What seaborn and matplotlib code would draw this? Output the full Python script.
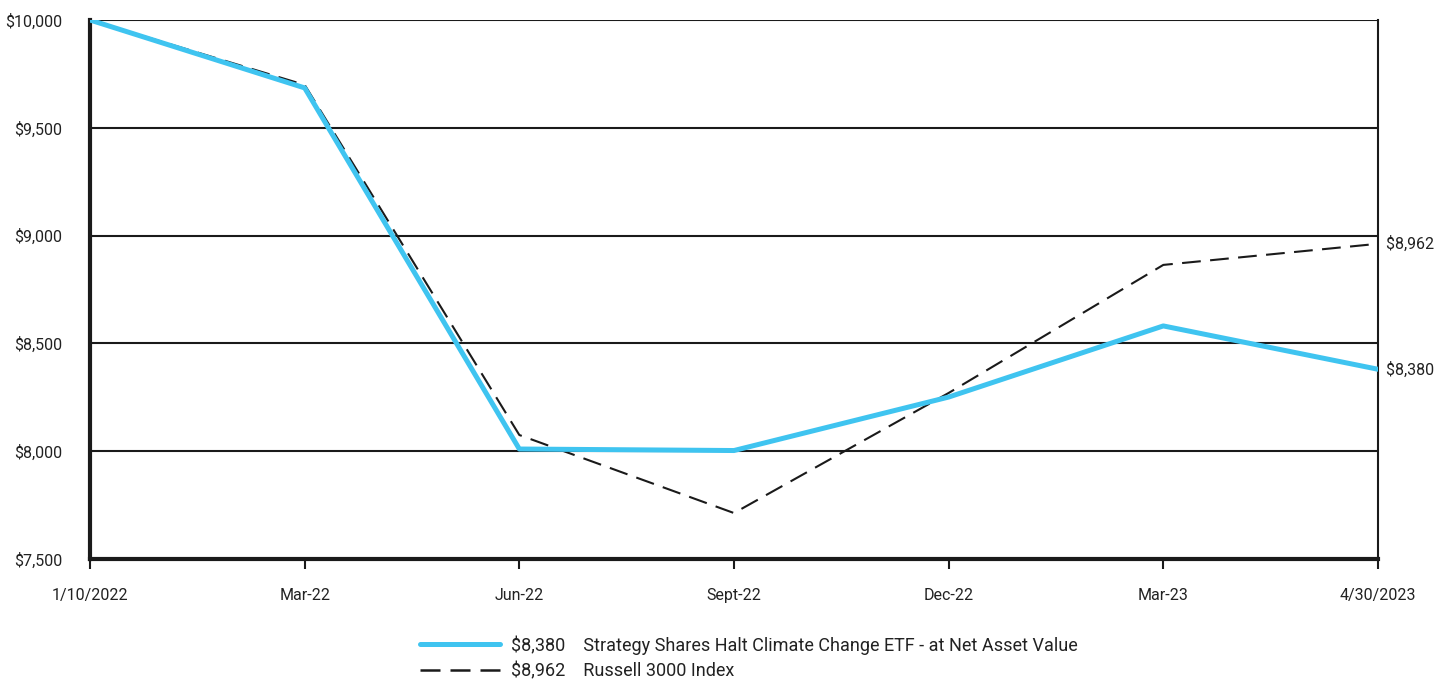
import matplotlib
matplotlib.use("Agg")
import matplotlib.pyplot as plt
import seaborn as sns
import pandas as pd
from matplotlib.lines import Line2D
from matplotlib.ticker import FuncFormatter

dates = ["1/10/2022", "Mar-22", "Jun-22", "Sept-22", "Dec-22", "Mar-23", "4/30/2023"]
fund = [10000, 9685, 8010, 8003, 8251, 8581, 8380]
index = [10000, 9699, 8075, 7713, 8270, 8864, 8962]
fund_name = "Strategy Shares Halt Climate Change ETF - at Net Asset Value"
index_name = "Russell 3000 Index"

sns.set_theme(style="white")
plt.rcParams["font.family"] = ["Roboto", "DejaVu Sans"]

df = pd.DataFrame({"pos": range(len(dates)), "fund": fund, "index": index})

blue = "#3fc4f0"
fig = plt.figure(figsize=(14.45, 6.83), dpi=100)
ax = fig.add_axes([0.0623, 0.1816, 0.8913, 0.7891])

sns.lineplot(data=df, x="pos", y="index", ax=ax, color="#1a1a1a", lw=1.5,
             zorder=3).lines[-1].set_dashes((9, 4.5))
sns.lineplot(data=df, x="pos", y="fund", ax=ax, color=blue, lw=3.6, zorder=4)

ax.set_xlim(0, len(dates) - 1)
ax.set_ylim(7500, 10000)
ax.set_yticks(range(7500, 10001, 500))
ax.yaxis.set_major_formatter(FuncFormatter(lambda v, p: f"${v:,.0f}"))
ax.set_xticks(df["pos"])
ax.set_xticklabels(dates)
ax.set_xlabel("")
ax.set_ylabel("")
ax.grid(axis="y", color="#1a1a1a", lw=1.5)
ax.set_axisbelow(True)

for s in ["left", "bottom"]:
    ax.spines[s].set_color("#1a1a1a")
    ax.spines[s].set_linewidth(3)
ax.spines["right"].set_color("#1a1a1a")
ax.spines["right"].set_linewidth(1.5)
ax.spines["top"].set_visible(False)

ax.tick_params(axis="x", bottom=True, length=7, width=1.5, color="#1a1a1a",
               labelsize=11.5, pad=14, labelcolor="#222222")
ax.tick_params(axis="y", left=False, labelsize=11.5, pad=14, labelcolor="#222222")

# end-of-line value labels
ax.text(len(dates) - 1, fund[-1], f"  ${fund[-1]:,}", ha="left", va="center",
        fontsize=11.5, color="#222222", clip_on=False)
ax.text(len(dates) - 1, index[-1], f"  ${index[-1]:,}", ha="left", va="center",
        fontsize=11.5, color="#222222", clip_on=False)

handles = [Line2D([], [], color=blue, lw=3.6),
           Line2D([], [], color="#1a1a1a", lw=1.8, dashes=(8, 4))]
labels = [f"${fund[-1]:,}    {fund_name}", f"${index[-1]:,}    {index_name}"]
fig.legend(handles, labels, loc="upper left", bbox_to_anchor=(0.2907, 0.07),
           frameon=False, fontsize=13, handlelength=4.4, handletextpad=0.65,
           labelspacing=0.42, borderaxespad=0, borderpad=0, labelcolor="#222222")

fig.savefig("out.png", dpi=100)
